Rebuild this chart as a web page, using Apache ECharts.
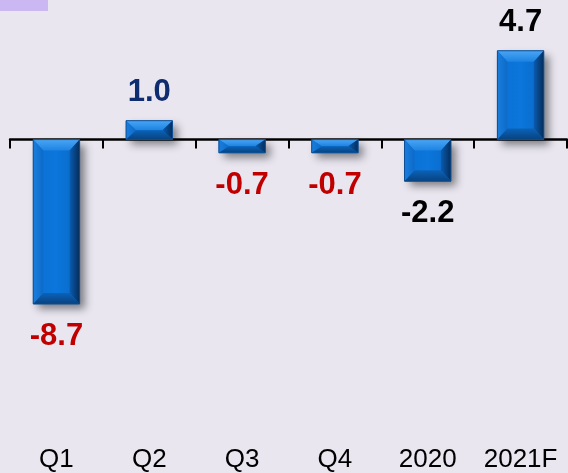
<!DOCTYPE html>
<html>
<head>
<meta charset="utf-8">
<script src="https://cdn.jsdelivr.net/npm/echarts@6/dist/echarts.min.js"></script>
<style>
  html, body { margin: 0; padding: 0; background: #e9e6f0; }
  #chart { width: 568px; height: 473px; }
</style>
</head>
<body>
<div id="chart"></div>
<script>
const categories = ['Q1', 'Q2', 'Q3', 'Q4', '2020', '2021F']
const values = [-8.7, 1.0, -0.7, -0.7, -2.2, 4.7]
const labelColors = ['#c00000', '#0f2c6e', '#c00000', '#c00000', '#000000', '#000000']

const font = '"Liberation Sans", Arial, sans-serif'
const G = echarts.graphic.LinearGradient

// bevelled "3d" face drawn over each bar
function renderBevel(params, api) {
  const v = api.value(1)
  const base = api.coord([api.value(0), 0])
  const end = api.coord([api.value(0), v])
  const w = api.size([1, 0])[0] * 0.5
  const x0 = base[0] - w / 2
  const x1 = base[0] + w / 2
  const yt = Math.min(base[1], end[1])
  const yb = Math.max(base[1], end[1])
  const h = yb - yt
  const b = Math.min(11, h / 2)
  const bx = Math.min(10, w / 2)
  return {
    type: 'group',
    children: [
      { type: 'rect', shape: { x: x0, y: yt, width: w, height: h },
        style: { fill: new G(0, 0, 1, 0, [
          { offset: 0, color: '#0c70d2' }, { offset: 0.5, color: '#0b76dc' }, { offset: 1, color: '#0a68c4' }]) } },
      { type: 'polygon', shape: { points: [[x0, yt], [x1, yt], [x1 - bx, yt + b], [x0 + bx, yt + b]] },
        style: { fill: new G(0, 0, 0, 1, [
          { offset: 0, color: '#4aa5f4' }, { offset: 1, color: '#1c83e2' }]) } },
      { type: 'polygon', shape: { points: [[x0, yt], [x0 + bx, yt + b], [x0 + bx, yb - b], [x0, yb]] },
        style: { fill: new G(0, 0, 1, 0, [
          { offset: 0, color: '#1a7ddd' }, { offset: 1, color: '#0c6bc9' }]) } },
      { type: 'polygon', shape: { points: [[x1, yt], [x1, yb], [x1 - bx, yb - b], [x1 - bx, yt + b]] },
        style: { fill: new G(0, 0, 1, 0, [
          { offset: 0, color: '#0a5bb0' }, { offset: 1, color: '#052d5a' }]) } },
      { type: 'polygon', shape: { points: [[x0, yb], [x1, yb], [x1 - bx, yb - b], [x0 + bx, yb - b]] },
        style: { fill: new G(0, 0, 0, 1, [
          { offset: 0, color: '#0b62b8' }, { offset: 1, color: '#08427f' }]) } },
      { type: 'rect', shape: { x: x0, y: yt, width: w, height: h },
        style: { fill: 'none', stroke: '#0d4f94', lineWidth: 1 } }
    ]
  }
}

const chart = echarts.init(document.getElementById('chart'))
chart.setOption({
  backgroundColor: '#e9e6f0',
  animation: false,
  graphic: [
    { type: 'rect', left: 0, top: 0, shape: { width: 48, height: 11 }, style: { fill: '#cbb7f1' } }
  ],
  grid: { left: 10, right: 1, top: 7.3, bottom: 26.4 },
  xAxis: [
    {
      type: 'category',
      data: categories,
      axisLine: { show: true, onZero: true, lineStyle: { color: '#000', width: 2.5 } },
      axisTick: { show: true, interval: 0, length: 9, lineStyle: { color: '#000', width: 2 } },
      axisLabel: { show: false }
    },
    {
      type: 'category',
      data: categories,
      position: 'bottom',
      axisLine: { show: false, onZero: false },
      axisTick: { show: false },
      axisLabel: { interval: 0, fontSize: 26, color: '#000', fontFamily: font, margin: 5 }
    }
  ],
  yAxis: { type: 'value', min: -16, max: 7, show: false, splitLine: { show: false } },
  series: [
    {
      type: 'bar',
      barWidth: '50%',
      data: values.map((v, i) => ({
        value: v,
        label: {
          position: v < 0 ? 'bottom' : 'top',
          distance: v < 0 ? 17 : 12.5,
          color: labelColors[i]
        }
      })),
      itemStyle: {
        color: '#0b70d3',
        shadowColor: 'rgba(0,0,0,0.45)',
        shadowBlur: 8,
        shadowOffsetX: 5,
        shadowOffsetY: 5
      },
      label: {
        show: true,
        fontSize: 31,
        fontWeight: 'bold',
        fontFamily: font,
        formatter: p => p.value.toFixed(1)
      }
    },
    {
      type: 'custom',
      renderItem: renderBevel,
      data: values.map((v, i) => [i, v]),
      encode: { x: 0, y: 1 },
      z: 3,
      silent: true
    }
  ]
})
</script>
</body>
</html>
